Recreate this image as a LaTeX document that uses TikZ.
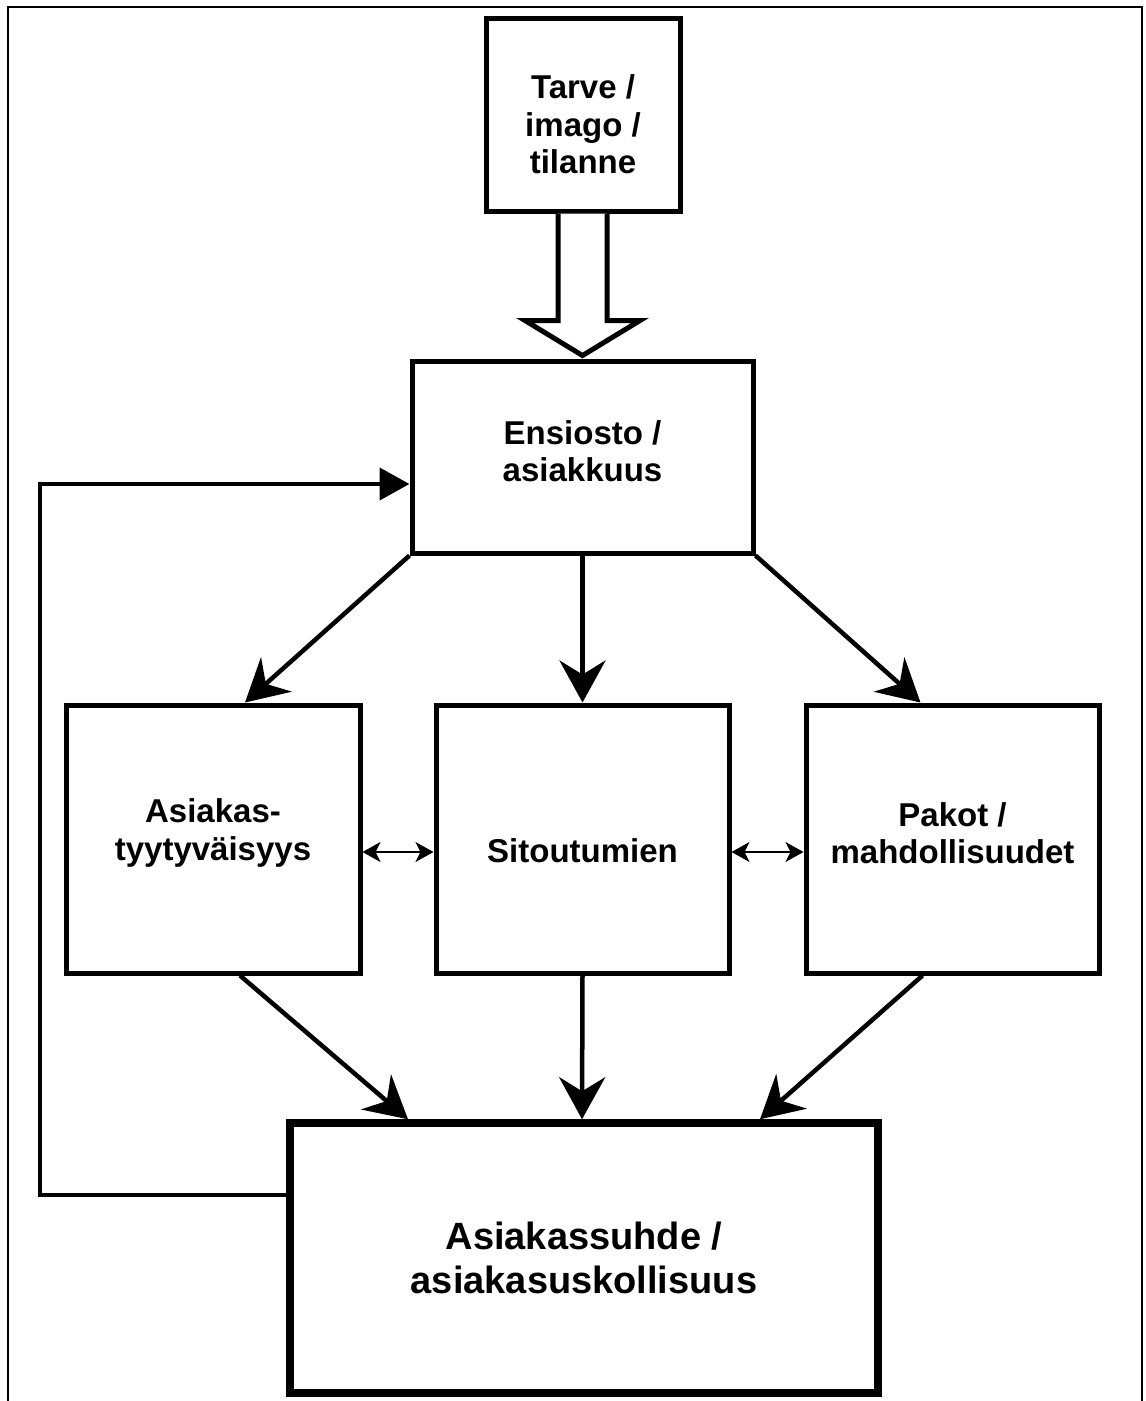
\documentclass[tikz,border=0pt]{standalone}
\usepackage{fontspec}
\setmainfont{Liberation Sans}
\usetikzlibrary{arrows.meta,calc}
\begin{document}
\begin{tikzpicture}[x=1pt,y=-1pt,
  box/.style={draw,line width=5pt,inner sep=0pt},
  txt/.style={inner sep=0pt,align=center,font=\bfseries\fontsize{33}{37.5}\selectfont},
  bigtxt/.style={inner sep=0pt,align=center,font=\bfseries\fontsize{38}{44}\selectfont},
  arr/.style={line width=4.5pt,-{Stealth[length=42pt,width=46pt,inset=14pt]}},
  dbl/.style={line width=1.6pt,{Stealth[length=18pt,width=20pt,inset=5pt]}-{Stealth[length=18pt,width=20pt,inset=5pt]}}]
\useasboundingbox (0,0) rectangle (1146,1401);
\draw[line width=2.5pt] (8,1401) -- (8,7) -- (1142,7) -- (1142,1401);
% boxes
\node[box,minimum width=194pt,minimum height=193pt] (tar) at (583,114.5) {};
\node[box,minimum width=341pt,minimum height=192pt] (ens) at (582.5,457) {};
\node[box,minimum width=294pt,minimum height=268pt] (asi) at (213,839) {};
\node[box,minimum width=293pt,minimum height=268pt] (sit) at (582.5,839) {};
\node[box,minimum width=293pt,minimum height=268pt] (pak) at (952.5,839) {};
\node[box,line width=7.5pt,minimum width=588pt,minimum height=270pt] (bot) at (584,1258) {};
% texts
\node[txt] (tartxt) at ($(tar.center)+(0,10)$) {Tarve /\\imago /\\tilanne};
\node[txt] (enstxt) at ($(ens.center)+(0,-6)$) {Ensiosto /\\asiakkuus};
\node[txt] (asitxt) at ($(asi.center)+(0,-6)$) {Asiakas-\\tyytyväisyys};
\node[txt] (sittxt) at ($(sit.center)+(0,12)$) {Sitoutumien};
\node[txt] (paktxt) at ($(pak.center)+(0,-6)$) {Pakot /\\mahdollisuudet};
\node[bigtxt] (bottxt) at ($(bot.center)+(0,0)$) {Asiakassuhde /\\asiakasuskollisuus};
% hollow arrow
\draw[line width=5pt,line join=miter,fill=white]
  ($(tar.south)+(-25,0)$) -- ++(0,107) -- ++(-33,0) -- ($(ens.north)+(0,-3)$)
  -- ($(tar.south)+(57,107)$) -- ++(-33,0) -- ($(tar.south)+(24,0)$);
% arrows from Ensiosto
\draw[arr] (ens.south west) -- ($(asi.north)+(32,0)$);
\draw[arr] (ens.south) -- (sit.north);
\draw[arr] (ens.south east) -- ($(pak.north)+(-32,0)$);
% arrows to bottom
\draw[arr] ($(asi.south)+(27,0)$) -- ($(bot.north)+(-176,0)$);
\draw[arr] (sit.south) -- ($(bot.north)+(-2,0)$);
\draw[arr] ($(pak.south)+(-30,0)$) -- ($(bot.north)+(176,0)$);
% double arrows
\draw[dbl] ($(asi.east)+(0,13)$) -- ($(sit.west)+(0,13)$);
\draw[dbl] ($(sit.east)+(0,13)$) -- ($(pak.west)+(0,13)$);
% feedback
\coordinate (fb) at (40,0);
\coordinate (fa) at ($(bot.west)+(0,-63)$);
\coordinate (fe) at ($(ens.west)+(0,27)$);
\draw[line width=4.5pt,line join=miter,-{Stealth[length=30pt,width=32pt,inset=0pt]}]
  (fa) -- (fa -| fb) -- (fe -| fb) -- (fe);
\end{tikzpicture}
\end{document}
